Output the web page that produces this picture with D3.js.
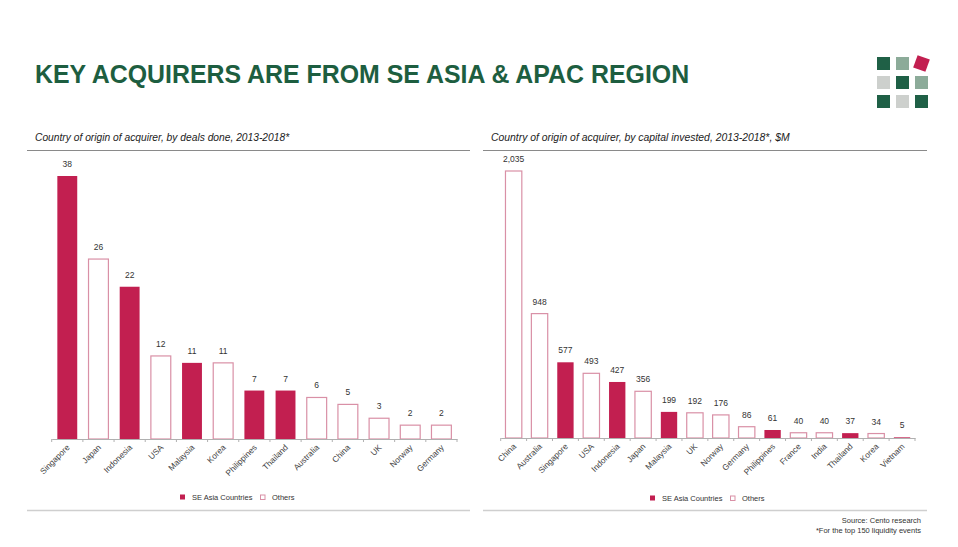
<!DOCTYPE html>
<html>
<head>
<meta charset="utf-8">
<script src="https://cdn.jsdelivr.net/npm/d3@7"></script>
<style>
  body { margin: 0; background: #fff; }
  svg { display: block; font-family: "Liberation Sans", Arial, sans-serif; }
</style>
</head>
<body>
<svg id="chart" width="958" height="547"></svg>
<script>
// deals done
var dealCountries = ["Singapore", "Japan", "Indonesia", "USA", "Malaysia", "Korea", "Philippines", "Thailand", "Australia", "China", "UK", "Norway", "Germany"];
var dealValues = [38, 26, 22, 12, 11, 11, 7, 7, 6, 5, 3, 2, 2];
var dealSea = [true, false, true, false, true, false, true, true, false, false, false, false, false];

// capital invested, $M
var capCountries = ["China", "Australia", "Singapore", "USA", "Indonesia", "Japan", "Malaysia", "UK", "Norway", "Germany", "Philippines", "France", "India", "Thailand", "Korea", "Vietnam"];
var capValues = [2035, 948, 577, 493, 427, 356, 199, 192, 176, 86, 61, 40, 40, 37, 34, 5];
var capSea = [false, false, true, false, true, false, true, false, false, false, true, false, false, true, false, true];

var legendLabels = ["SE Asia Countries", "Others"];

var crimson = "#c21f50";
var pink = "#d990a6";
var green = "#1d5e40";

var svg = d3.select("#chart");

// title
svg.append("text")
    .attr("x", 35).attr("y", 83)
    .attr("font-size", 24.9).attr("font-weight", "bold")
    .attr("fill", green)
    .text("KEY ACQUIRERS ARE FROM SE ASIA & APAC REGION");

// logo squares
var logoCells = [
    { c: 0, r: 0, fill: "#1f6046" }, { c: 1, r: 0, fill: "#8cab99" }, { c: 2, r: 0, fill: crimson, rot: true },
    { c: 0, r: 1, fill: "#cdd0cd" }, { c: 1, r: 1, fill: "#1f6046" }, { c: 2, r: 1, fill: "#8cab99" },
    { c: 0, r: 2, fill: "#1f6046" }, { c: 1, r: 2, fill: "#cdd0cd" }, { c: 2, r: 2, fill: "#1f6046" }
];
svg.append("g").selectAll("rect").data(logoCells).enter()
    .append("rect")
    .attr("x", d => 877 + d.c * 19)
    .attr("y", d => 57 + d.r * 19)
    .attr("width", 13).attr("height", 13)
    .attr("fill", d => d.fill)
    .attr("transform", d => d.rot ? `rotate(20,${877 + d.c * 19 + 6.5},${57 + d.r * 19 + 6.5})` : null);

function drawPanel(opt) {
    var g = svg.append("g");

    g.append("text")
        .attr("x", opt.x0 + 8).attr("y", 141)
        .attr("font-size", opt.subSize).attr("font-style", "italic").attr("fill", "#222")
        .text(opt.subtitle);
    g.append("line")
        .attr("x1", opt.x0).attr("x2", opt.x1)
        .attr("y1", 150.5).attr("y2", 150.5)
        .attr("stroke", "#8a8a8a").attr("stroke-width", 1);

    var x = d3.scaleBand().domain(opt.cats).range([opt.ax0, opt.ax1]).paddingInner(0.33).paddingOuter(0.165);
    var y = d3.scaleLinear().domain([0, opt.max]).range([opt.base, opt.top]);

    g.selectAll(".bar").data(opt.vals).enter()
        .append("rect")
        .attr("x", (d, i) => x(opt.cats[i]) + 0.5)
        .attr("y", d => y(d))
        .attr("width", x.bandwidth() - 1)
        .attr("height", d => opt.base - y(d))
        .attr("fill", (d, i) => opt.sea[i] ? crimson : "#fff")
        .attr("stroke", (d, i) => opt.sea[i] ? "none" : pink)
        .attr("stroke-width", 1.2);

    g.selectAll(".val").data(opt.vals).enter()
        .append("text")
        .attr("x", (d, i) => x(opt.cats[i]) + x.bandwidth() / 2)
        .attr("y", d => y(d) - 9)
        .attr("text-anchor", "middle")
        .attr("font-size", 8.5).attr("fill", "#333")
        .text(d => d3.format(",")(d));

    // axis
    var axis = g.append("g").attr("transform", `translate(0,${opt.base})`)
        .call(d3.axisBottom(x).tickSize(0).tickFormat(""));
    axis.select(".domain").attr("stroke", "#b0b0b0").attr("stroke-width", 1);
    var step = x.step();
    g.selectAll(".tk").data(d3.range(opt.cats.length + 1)).enter()
        .append("line")
        .attr("x1", i => opt.ax0 + i * step).attr("x2", i => opt.ax0 + i * step)
        .attr("y1", opt.base).attr("y2", opt.base + 3)
        .attr("stroke", "#b0b0b0");

    g.selectAll(".lab").data(opt.cats).enter()
        .append("text")
        .attr("transform", d => `translate(${x(d) + x.bandwidth() / 2 + 3},${opt.base + 9}) rotate(-45)`)
        .attr("text-anchor", "end")
        .attr("font-size", 8.3).attr("fill", "#444")
        .text(d => d);

    // legend
    var lg = g.append("g").attr("transform", `translate(${opt.legX},${opt.legY})`);
    lg.append("rect").attr("x", 0).attr("y", -5.5).attr("width", 5).attr("height", 5).attr("fill", crimson);
    lg.append("text").attr("x", 12).attr("y", 0).attr("font-size", 7.5).attr("fill", "#333").text(legendLabels[0]);
    lg.append("rect").attr("x", opt.legGap + 0.5).attr("y", -5).attr("width", 4.5).attr("height", 4.5)
        .attr("fill", "#fff").attr("stroke", pink).attr("stroke-width", 1);
    lg.append("text").attr("x", opt.legGap + 12).attr("y", 0).attr("font-size", 7.5).attr("fill", "#333").text(legendLabels[1]);

    g.append("line")
        .attr("x1", opt.x0).attr("x2", opt.x1)
        .attr("y1", 510.5).attr("y2", 510.5)
        .attr("stroke", "#cfcfcf").attr("stroke-width", 1.5);
}

drawPanel({
    x0: 27, x1: 470, ax0: 51.7, ax1: 457,
    base: 439, top: 176, max: 38,
    cats: dealCountries, vals: dealValues, sea: dealSea,
    subtitle: "Country of origin of acquirer, by deals done, 2013-2018*", subSize: 10.25,
    legX: 180, legY: 500, legGap: 80
});

drawPanel({
    x0: 483, x1: 927, ax0: 500.7, ax1: 915,
    base: 438, top: 171, max: 2035,
    cats: capCountries, vals: capValues, sea: capSea,
    subtitle: "Country of origin of acquirer, by capital invested, 2013-2018*, $M", subSize: 10.4,
    legX: 650, legY: 501, legGap: 80
});

// source
svg.append("text")
    .attr("x", 921).attr("y", 523)
    .attr("text-anchor", "end").attr("font-size", 7.5).attr("fill", "#333")
    .text("Source: Cento research");
svg.append("text")
    .attr("x", 921).attr("y", 533)
    .attr("text-anchor", "end").attr("font-size", 7.5).attr("fill", "#333")
    .text("*For the top 150 liquidity events");
</script>
</body>
</html>
